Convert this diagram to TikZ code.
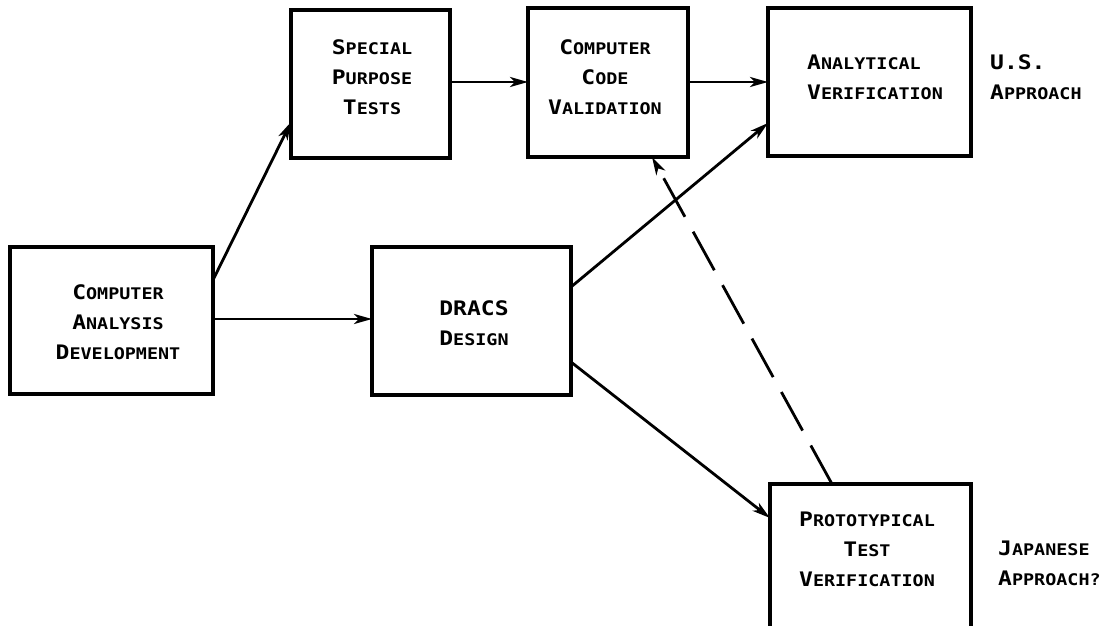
\documentclass[tikz,border=0pt]{standalone}
\usepackage{fontspec}
\usetikzlibrary{arrows.meta,calc}
\newfontfamily\tw[FakeStretch=1.15]{DejaVu Sans Mono}
% typewriter-style small caps: a tall initial, the rest in smaller capitals
\newcommand\tallcap[1]{{\fontsize{20}{30}\selectfont #1}}
\newcommand\scword[2]{\tallcap{#1}{\fontsize{16}{30}\selectfont #2}}
\tikzset{
  box/.style={draw, line width=3.2pt, rectangle, inner sep=0pt, outer sep=0pt},
  label text/.style={font=\tw\bfseries\fontsize{16}{30}\selectfont, inner sep=0pt},
  arr/.style={line width=2.8pt, -{Stealth[length=18pt,width=10pt,inset=5pt]}},
  dashline/.style={arr, dash pattern=on 44pt off 17pt},
}
\begin{document}
\begin{tikzpicture}[x=1pt,y=-1pt]
\path[use as bounding box, fill=white] (0,0) rectangle (1114,626);
\clip (0,0) rectangle (1114,626);

% boxes
\node[box, minimum width=203pt, minimum height=147pt] (cad)   at (111.5,320.5) {};
\node[box, minimum width=159pt, minimum height=148pt] (spt)   at (370.5,84) {};
\node[box, minimum width=160pt, minimum height=149pt] (ccv)   at (608,82.5) {};
\node[box, minimum width=203pt, minimum height=148pt] (av)    at (869.5,82) {};
\node[box, minimum width=199pt, minimum height=148pt] (dracs) at (471.5,321) {};
\node[box, minimum width=201pt, minimum height=170pt] (proto) at (870.5,569) {};

% box texts
\node[label text, align=center] (cad-t) at (118,322)
  {\scword{C}{OMPUTER}\\\scword{A}{NALYSIS}\\\scword{D}{EVELOPMENT}};
\node[label text, align=center] (spt-t) at (372,77)
  {\scword{S}{PECIAL}\\\scword{P}{URPOSE}\\\scword{T}{ESTS}};
\node[label text, align=center] (ccv-t) at (605,77)
  {\scword{C}{OMPUTER}\\\scword{C}{ODE}\\\scword{V}{ALIDATION}};
\node[label text, align=left, anchor=west] (av-t) at (807,77)
  {\scword{A}{NALYTICAL}\\\scword{V}{ERIFICATION}};
\node[label text, align=center] (dracs-t) at (474,323.5)
  {\tallcap{DRACS}\\\scword{D}{ESIGN}};
\node[label text, align=center] (proto-t) at (867,549)
  {\scword{P}{ROTOTYPICAL}\\\scword{T}{EST}\\\scword{V}{ERIFICATION}};

% side notes
\node[label text, align=left, anchor=west] (us) at (990,77)
  {\tallcap{U.S.}\\\scword{A}{PPROACH}};
\node[label text, align=left, anchor=west] (jp) at (998,563)
  {\scword{J}{APANESE}\\\scword{A}{PPROACH?}};

% connectors
\draw[arr] (cad.east |- 0,280) -- (spt.west |- 0,122);
\draw[arr] (cad.east |- 0,319) -- (dracs.west |- 0,319);
\draw[arr] (spt.east |- 0,82) -- (ccv.west |- 0,82);
\draw[arr] (ccv.east |- 0,82) -- (av.west |- 0,82);
\draw[arr] (dracs.east |- 0,287) -- (av.west |- 0,123);
\draw[arr] (dracs.east |- 0,362) -- (proto.west |- 0,518);
\draw[dashline] (proto.north -| 832,0) -- (ccv.south -| 652,0);
\end{tikzpicture}
\end{document}
